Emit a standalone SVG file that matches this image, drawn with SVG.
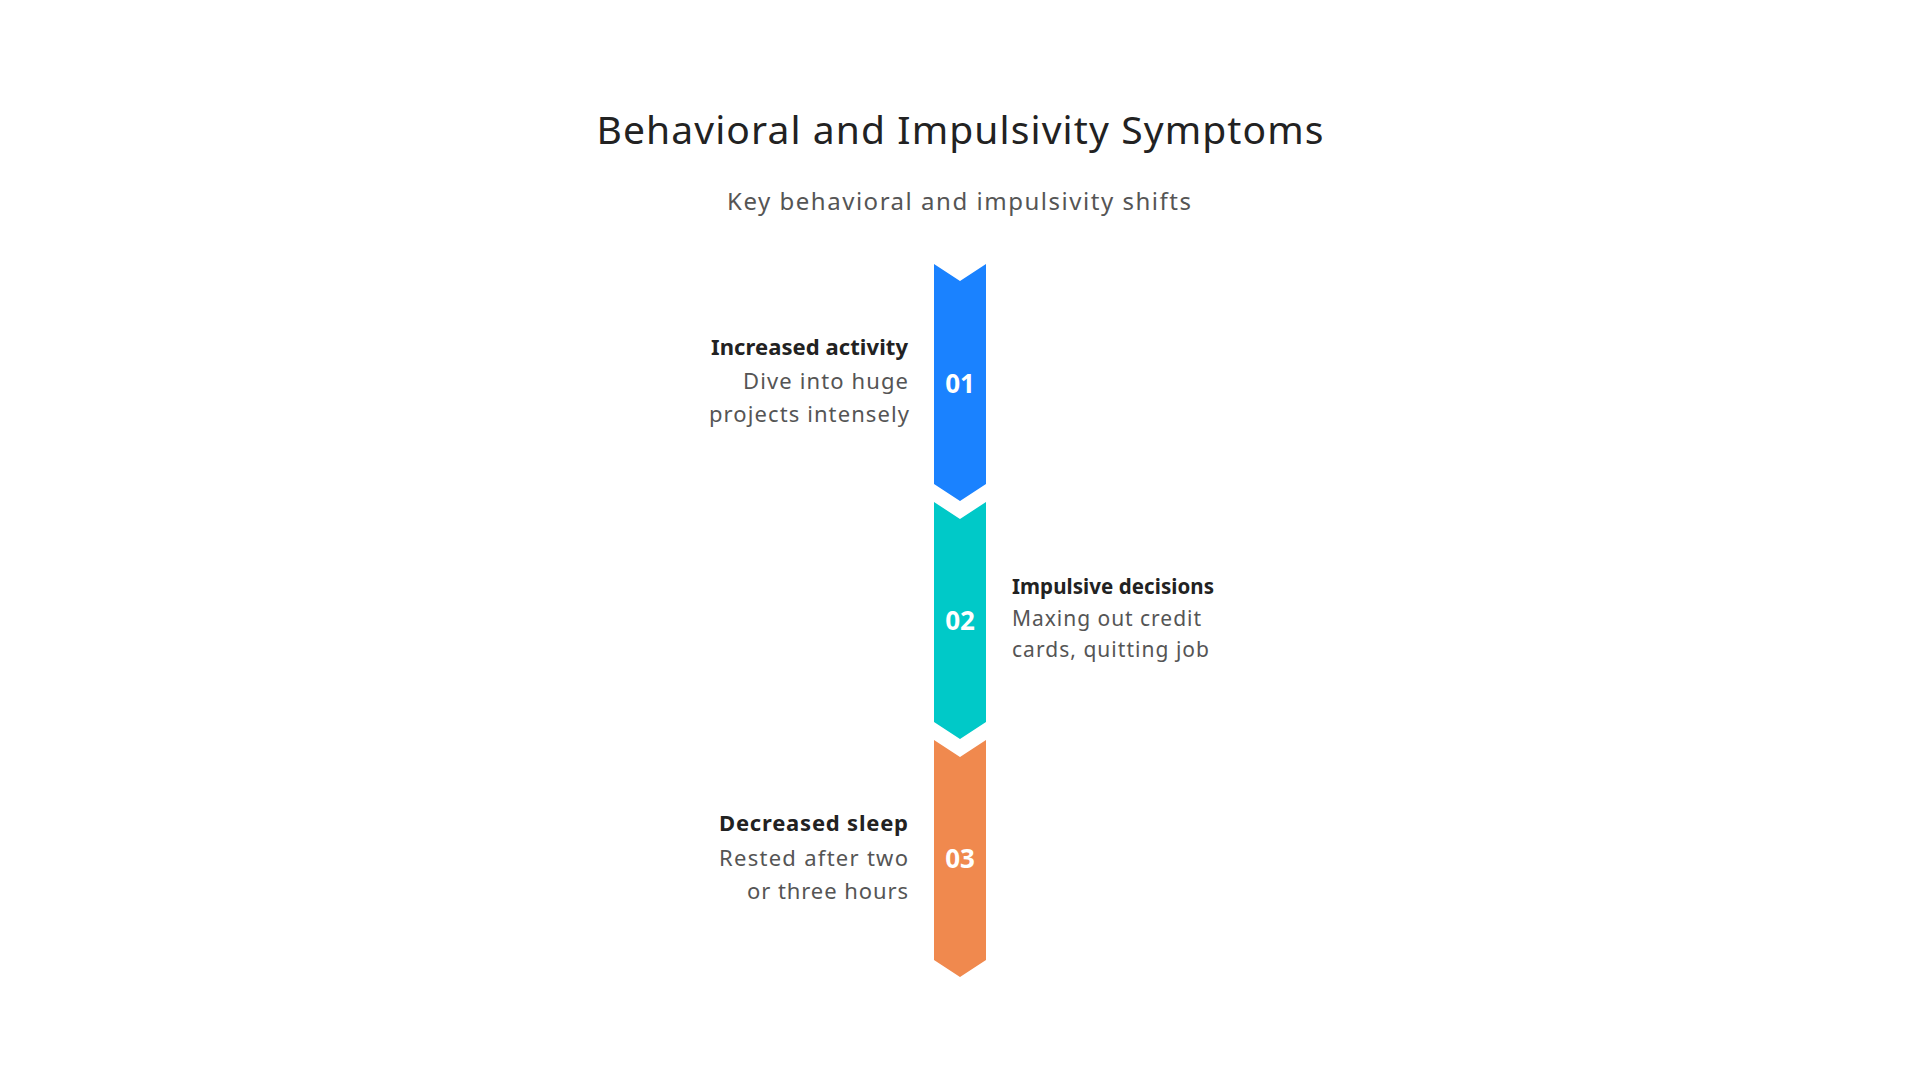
<svg xmlns="http://www.w3.org/2000/svg" width="1920" height="1080" viewBox="0 0 1920 1080">
<style>
.title{font-family:"Noto Sans","Open Sans",sans-serif;font-size:39px;fill:#222222}
.sub{font-family:"Noto Sans","Open Sans",sans-serif;font-size:24px;fill:#555555}
.num{font-family:"Noto Sans","Open Sans",sans-serif;font-size:26px;font-weight:bold;fill:#ffffff;text-anchor:middle}
.hd{font-family:"Noto Sans","Open Sans",sans-serif;font-size:22px;font-weight:bold;fill:#222222}
.bd{font-family:"Noto Sans","Open Sans",sans-serif;font-size:22px;fill:#555555}
.hd2{font-family:"Noto Sans","Open Sans",sans-serif;font-size:20.5px;font-weight:bold;fill:#222222}
.bd2{font-family:"Noto Sans","Open Sans",sans-serif;font-size:21px;fill:#555555}
</style>
<rect width="1920" height="1080" fill="#ffffff"/>
<text class="title" x="960" y="144" text-anchor="middle" textLength="727" lengthAdjust="spacing">Behavioral and Impulsivity Symptoms</text>
<text class="sub" x="959" y="210" text-anchor="middle" textLength="464" lengthAdjust="spacing">Key behavioral and impulsivity shifts</text>
<g id="connectors"></g>
<g id="step1">
<path d="M934,264 L960,281 L986,264 L986,484 L960,501 L934,484 Z" fill="#1A82FF"/>
<text class="num" x="960" y="393">01</text>
<text class="hd" x="908" y="355" text-anchor="end" textLength="197" lengthAdjust="spacing">Increased activity</text>
<text class="bd" x="908" y="389" text-anchor="end" textLength="165" lengthAdjust="spacing">Dive into huge</text>
<text class="bd" x="909" y="422" text-anchor="end" textLength="200" lengthAdjust="spacing">projects intensely</text>
</g>
<g id="step2">
<path d="M934,502 L960,519 L986,502 L986,722 L960,739 L934,722 Z" fill="#00C9C8"/>
<text class="num" x="960" y="630">02</text>
<text class="hd2" x="1012" y="594" textLength="202" lengthAdjust="spacing">Impulsive decisions</text>
<text class="bd2" x="1012" y="626" textLength="189" lengthAdjust="spacing">Maxing out credit</text>
<text class="bd2" x="1012" y="657" textLength="197" lengthAdjust="spacing">cards, quitting job</text>
</g>
<g id="step3">
<path d="M934,740 L960,757 L986,740 L986,960 L960,977 L934,960 Z" fill="#F0894E"/>
<text class="num" x="960" y="868">03</text>
<text class="hd" x="908" y="831" text-anchor="end" textLength="189" lengthAdjust="spacing">Decreased sleep</text>
<text class="bd" x="908" y="866" text-anchor="end" textLength="189" lengthAdjust="spacing">Rested after two</text>
<text class="bd" x="908" y="899" text-anchor="end" textLength="161" lengthAdjust="spacing">or three hours</text>
</g>
</svg>
